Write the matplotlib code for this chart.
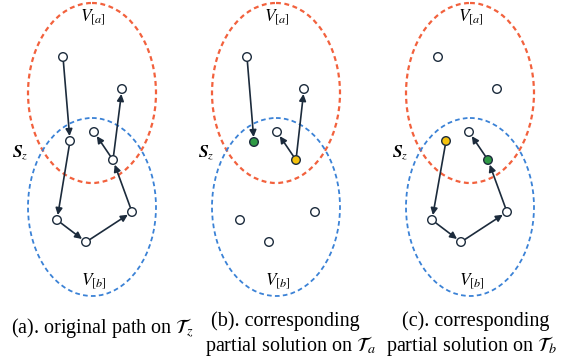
import matplotlib.pyplot as plt
from matplotlib.patches import Ellipse, Circle

plt.rcParams['mathtext.fontset'] = 'stix'
plt.rcParams['font.family'] = ['Liberation Serif', 'DejaVu Serif']

# node positions per panel (canvas pixels, y downward)
nodes_a = [(63, 57), (122, 89), (70, 141), (94, 132), (113, 160), (57, 220), (86, 242), (132, 212)]
nodes_b = [(247, 57), (304, 89), (254, 142), (277, 132), (296, 160), (240, 220), (269, 242), (315, 212)]
nodes_c = [(438, 57), (497, 89), (446, 141), (469, 132), (488, 160), (432, 220), (461, 242), (507, 212)]

# directed edges (index pairs)
edges_a = [(0, 2), (2, 5), (5, 6), (6, 7), (7, 4), (4, 3), (4, 1)]
edges_b = [(0, 2), (4, 3), (4, 1)]
edges_c = [(2, 5), (5, 6), (6, 7), (7, 4), (4, 3)]

# highlighted nodes: index -> fill colour
fill_a = {}
fill_b = {2: '#2f9a45', 4: '#f4c20d'}
fill_c = {2: '#f4c20d', 4: '#2f9a45'}

# ellipse centres (x of panel), shared y values
panel_x = [92, 276, 470]
red_cy, blue_cy = 93, 207
ell_w, red_h, blue_h = 128, 180, 178

# caption lines: (text, x, y)
captions = [
    (r'(a). original path on $\mathcal{T}_z$', 102, 328),
    ('(b). corresponding', 285, 321),
    (r'partial solution on $\mathcal{T}_a$', 290, 346),
    ('(c). corresponding', 476, 321),
    (r'partial solution on $\mathcal{T}_b$', 471, 346),
]
sz_x = [20, 206, 400]

fig = plt.figure(figsize=(5.64, 3.62), dpi=100)
ax = fig.add_axes([0, 0, 1, 1])
ax.set_xlim(0, 564)
ax.set_ylim(362, 0)
ax.set_aspect('equal')
ax.axis('off')

red = '#f2613d'
blue = '#3b82d6'
edge_col = '#1c2b3c'
r = 4.3

panels = [(nodes_a, edges_a, fill_a), (nodes_b, edges_b, fill_b), (nodes_c, edges_c, fill_c)]
for i, (nodes, edges, fills) in enumerate(panels):
    cx = panel_x[i]
    ax.add_patch(Ellipse((cx, red_cy), ell_w, red_h, fill=False, ec=red,
                         lw=1.6, ls=(0, (2.2, 1.6)), zorder=1))
    ax.add_patch(Ellipse((cx, blue_cy), ell_w, blue_h, fill=False, ec=blue,
                         lw=1.3, ls=(0, (2.6, 1.8)), zorder=1))
    for a, b in edges:
        ax.annotate('', xy=nodes[b], xytext=nodes[a],
                    arrowprops=dict(arrowstyle='-|>', color=edge_col, lw=1.2,
                                    mutation_scale=10, shrinkA=3.6, shrinkB=3.6),
                    zorder=2)
    for k, (x, y) in enumerate(nodes):
        ax.add_patch(Circle((x, y), r, fc=fills.get(k, 'white'), ec=edge_col,
                            lw=1.0, zorder=3))
    ax.text(cx + 1, 17, r'$V_{[a]}$', fontsize=12.5, ha='center', va='center')
    ax.text(cx + 2, 281, r'$V_{[b]}$', fontsize=12.5, ha='center', va='center')
    ax.text(sz_x[i], 153, r'$\boldsymbol{S}_z$', fontsize=12.5, ha='center', va='center')

for text, x, y in captions:
    ax.text(x, y, text, fontsize=14.5, ha='center', va='center')

fig.savefig('out.png', dpi=100)
